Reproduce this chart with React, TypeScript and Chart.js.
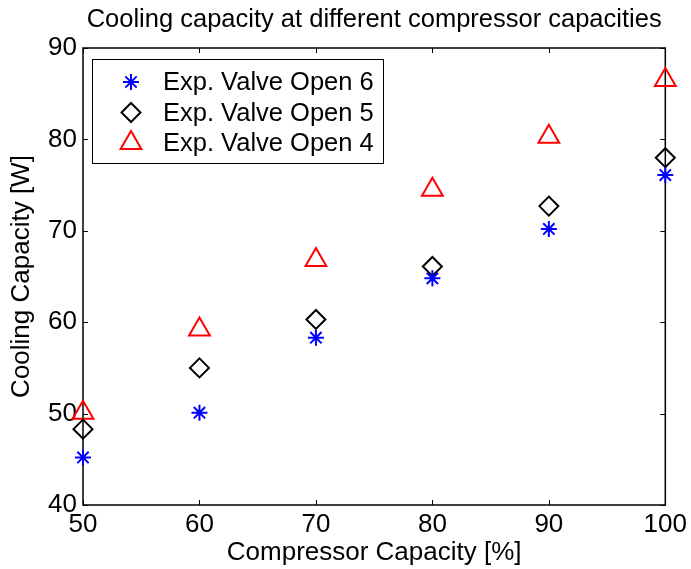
import React, { useEffect, useRef } from "react";
import { Chart, registerables } from "chart.js";

Chart.register(...registerables);

const categories = [50, 60, 70, 80, 90, 100];
const valveOpen6 = [45.2, 50.1, 58.3, 64.8, 70.2, 76.1];
const valveOpen5 = [48.3, 55.0, 60.3, 66.1, 72.7, 78.0];
const valveOpen4 = [50.1, 59.2, 66.8, 74.5, 80.3, 86.5];
const seriesLabels = ["Exp. Valve Open 6", "Exp. Valve Open 5", "Exp. Valve Open 4"];
const xTickValues = [50, 60, 70, 80, 90, 100];
const yTickValues = [40, 50, 60, 70, 80, 90];
const titleText = "Cooling capacity at different compressor capacities";
const xTitleText = "Compressor Capacity [%]";
const yTitleText = "Cooling Capacity [W]";

const FONT = "'Liberation Sans', Arial, Helvetica, sans-serif";

function drawMarker(ctx: CanvasRenderingContext2D, style: string, x: number, y: number, r: number) {
  ctx.beginPath();
  if (style === "star") {
    for (let k = 0; k < 4; k++) {
      const a = (k * Math.PI) / 4;
      ctx.moveTo(x - Math.cos(a) * r, y - Math.sin(a) * r);
      ctx.lineTo(x + Math.cos(a) * r, y + Math.sin(a) * r);
    }
    ctx.stroke();
  } else if (style === "rectRot") {
    ctx.moveTo(x - r, y);
    ctx.lineTo(x, y - r);
    ctx.lineTo(x + r, y);
    ctx.lineTo(x, y + r);
    ctx.closePath();
    ctx.stroke();
  } else if (style === "triangle") {
    let a = 0;
    ctx.moveTo(x + Math.sin(a) * r, y - Math.cos(a) * r);
    a += (2 * Math.PI) / 3;
    ctx.lineTo(x + Math.sin(a) * r, y - Math.cos(a) * r);
    a += (2 * Math.PI) / 3;
    ctx.lineTo(x + Math.sin(a) * r, y - Math.cos(a) * r);
    ctx.closePath();
    ctx.stroke();
  }
}

const framePlugin = {
  id: "matlabFrame",
  beforeDatasetsDraw(chart: any) {
    const { ctx, chartArea } = chart;
    const { left, right, top, bottom } = chartArea;
    const xs = chart.scales.x;
    const ys = chart.scales.y;
    ctx.save();
    ctx.strokeStyle = "#000";
    ctx.lineWidth = 1.5;
    ctx.strokeRect(left, top, right - left, bottom - top);
    ctx.lineWidth = 1;
    const tl = 5;
    ctx.beginPath();
    xTickValues.forEach((v) => {
      const px = Math.round(xs.getPixelForValue(v)) + 0.5;
      ctx.moveTo(px, bottom);
      ctx.lineTo(px, bottom - tl);
      ctx.moveTo(px, top);
      ctx.lineTo(px, top + tl);
    });
    yTickValues.forEach((v) => {
      const py = Math.round(ys.getPixelForValue(v)) + 0.5;
      ctx.moveTo(left, py);
      ctx.lineTo(left + tl, py);
      ctx.moveTo(right, py);
      ctx.lineTo(right - tl, py);
    });
    ctx.stroke();
    ctx.restore();
  },
};

const legendPlugin = {
  id: "insideLegend",
  afterDatasetsDraw(chart: any) {
    const { ctx, chartArea } = chart;
    const bx = chartArea.left + 9;
    const by = chartArea.top + 11;
    const bw = 291;
    const bh = 104;
    ctx.save();
    ctx.fillStyle = "#fff";
    ctx.fillRect(bx, by, bw, bh);
    ctx.strokeStyle = "#000";
    ctx.lineWidth = 1;
    ctx.strokeRect(bx + 0.5, by + 0.5, bw, bh);
    chart.data.datasets.forEach((ds: any, i: number) => {
      const cy = by + 23 + i * 30.5;
      ctx.strokeStyle = ds.borderColor;
      ctx.lineWidth = ds.pointBorderWidth;
      drawMarker(ctx, ds.pointStyle, bx + 39, cy, ds.pointRadius);
      ctx.fillStyle = "#000";
      ctx.font = `25.5px ${FONT}`;
      ctx.textBaseline = "middle";
      ctx.textAlign = "left";
      ctx.fillText(ds.label, bx + 71, cy + 1);
    });
    ctx.restore();
  },
};

export default function App() {
  const canvasRef = useRef<HTMLCanvasElement | null>(null);

  useEffect(() => {
    const canvas = canvasRef.current;
    if (!canvas) return;
    const mk = (vals: number[]) => categories.map((c, i) => ({ x: c, y: vals[i] }));
    const chart = new Chart(canvas, {
      type: "scatter",
      data: {
        datasets: [
          {
            label: seriesLabels[0],
            data: mk(valveOpen6),
            pointStyle: "star",
            pointRadius: 8,
            pointBorderWidth: 2,
            borderColor: "#0000ff",
            backgroundColor: "rgba(0,0,0,0)",
            clip: false,
          } as any,
          {
            label: seriesLabels[1],
            data: mk(valveOpen5),
            pointStyle: "rectRot",
            pointRadius: 9.5,
            pointBorderWidth: 2,
            borderColor: "#000000",
            backgroundColor: "rgba(0,0,0,0)",
            clip: false,
          } as any,
          {
            label: seriesLabels[2],
            data: mk(valveOpen4),
            pointStyle: "triangle",
            pointRadius: 12,
            pointBorderWidth: 2,
            borderColor: "#ff0000",
            backgroundColor: "rgba(0,0,0,0)",
            clip: false,
          } as any,
        ],
      },
      options: {
        responsive: false,
        animation: false,
        events: [],
        layout: { padding: { left: 0, right: 24, top: 0, bottom: 0 } },
        plugins: {
          legend: { display: false },
          tooltip: { enabled: false },
          title: {
            display: true,
            text: titleText,
            fullSize: false,
            color: "#000",
            font: { family: FONT, size: 25.5, weight: "normal", lineHeight: 1.2 },
            padding: { top: 5, bottom: 12.4 },
          },
        },
        scales: {
          x: {
            type: "linear",
            min: 50,
            max: 100,
            afterBuildTicks: (scale: any) => {
              scale.ticks = xTickValues.map((v) => ({ value: v }));
            },
            afterFit: (scale: any) => {
              scale.height = 64;
            },
            grid: { display: false, drawTicks: false },
            border: { display: false },
            ticks: {
              color: "#000",
              padding: 4,
              maxRotation: 0,
              autoSkip: false,
              font: { family: FONT, size: 26 },
            },
            title: {
              display: true,
              text: xTitleText,
              color: "#000",
              font: { family: FONT, size: 26, lineHeight: 1.2 },
              padding: { top: 0, bottom: 1 },
            },
          },
          y: {
            type: "linear",
            min: 40,
            max: 90,
            afterBuildTicks: (scale: any) => {
              scale.ticks = yTickValues.map((v) => ({ value: v }));
            },
            afterFit: (scale: any) => {
              scale.width = 83;
            },
            grid: { display: false, drawTicks: false },
            border: { display: false },
            ticks: {
              color: "#000",
              padding: 6,
              autoSkip: false,
              font: { family: FONT, size: 26 },
            },
            title: {
              display: true,
              text: yTitleText,
              color: "#000",
              font: { family: FONT, size: 26, lineHeight: 1.2 },
              padding: { top: 6, bottom: 0 },
            },
          },
        },
      },
      plugins: [framePlugin, legendPlugin],
    });
    return () => chart.destroy();
  }, []);

  return (
    <div style={{ position: "absolute", left: 0, top: 0, width: 691, height: 569, background: "#fff" }}>
      <canvas ref={canvasRef} width={691} height={569} style={{ width: 691, height: 569 }} />
    </div>
  );
}
